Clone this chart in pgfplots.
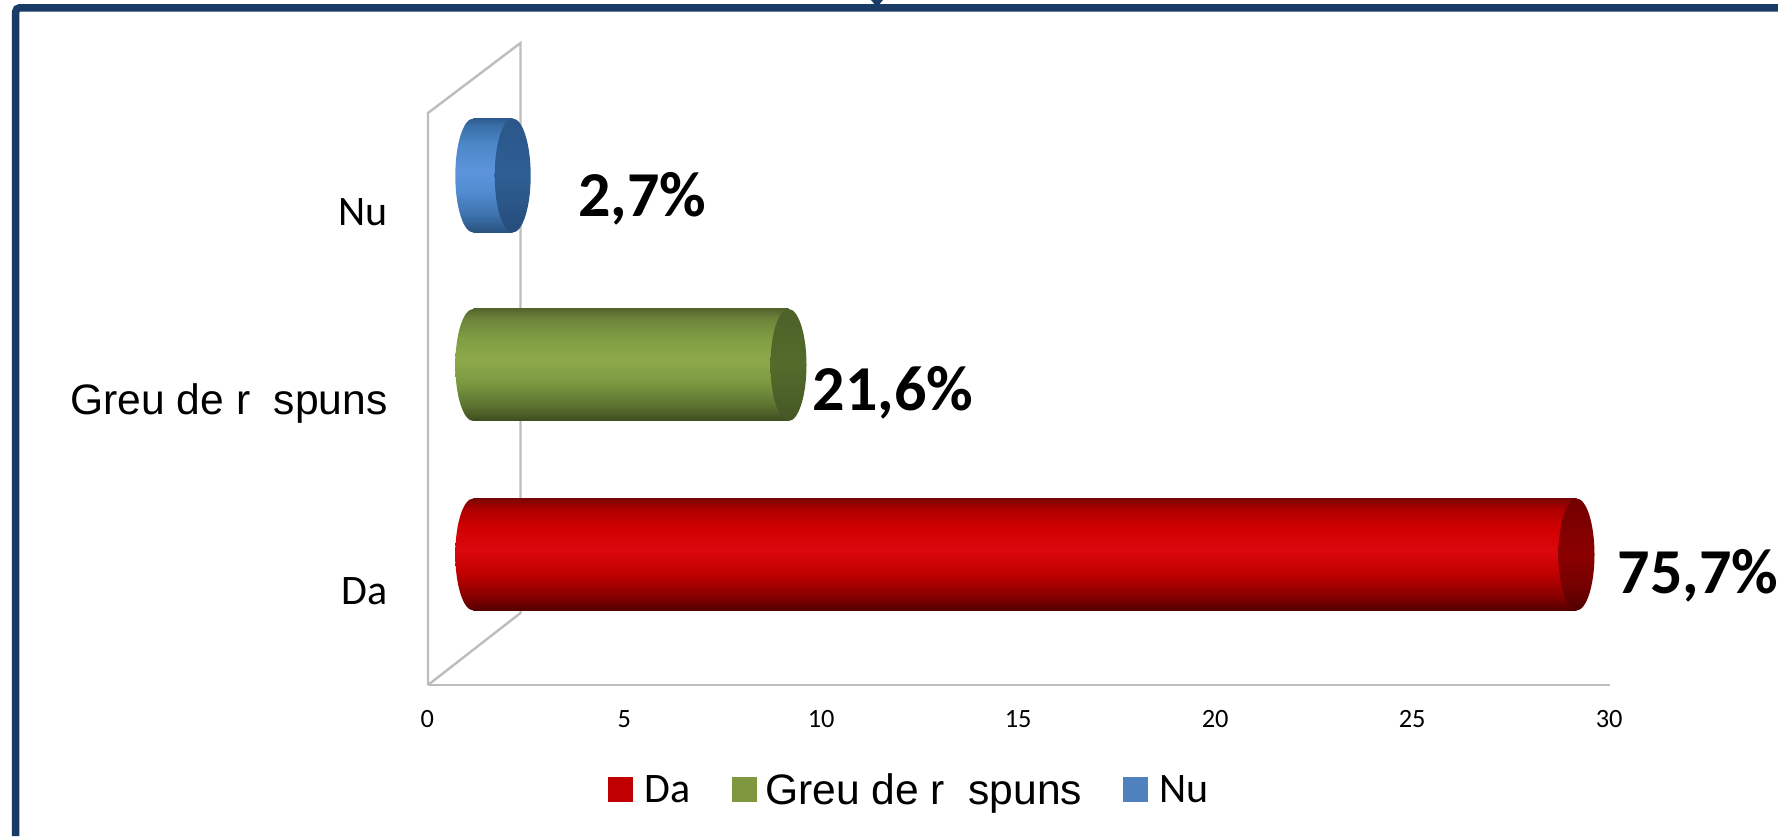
\documentclass[border=0pt]{standalone}
\usepackage{fontspec}
\usepackage{pgfplots}
\pgfplotsset{compat=1.18}
\newfontfamily\carlito{Carlito}
\newfontfamily\arialf{Liberation Sans}
\definecolor{framec}{HTML}{1A3B66}
\definecolor{wallc}{HTML}{BDBDBD}
\definecolor{legred}{HTML}{C00000}
\definecolor{leggreen}{HTML}{7F983F}
\definecolor{legblue}{HTML}{4F81BD}
\pgfdeclareverticalshading{redbody}{100bp}{rgb(0bp)=(0.33,0,0);rgb(25bp)=(0.33,0,0);rgb(32bp)=(0.55,0,0);rgb(42bp)=(0.76,0,0);rgb(52bp)=(0.86,0.03,0.05);rgb(62bp)=(0.82,0,0);rgb(71bp)=(0.66,0,0);rgb(75bp)=(0.48,0.02,0.02);rgb(100bp)=(0.48,0.02,0.02)}
\pgfdeclareverticalshading{redcap}{100bp}{rgb(0bp)=(0.32,0,0);rgb(25bp)=(0.32,0,0);rgb(35bp)=(0.45,0,0);rgb(50bp)=(0.55,0,0);rgb(75bp)=(0.45,0,0);rgb(100bp)=(0.45,0,0)}
\pgfdeclareverticalshading{greenbody}{100bp}{rgb(0bp)=(0.24,0.30,0.12);rgb(25bp)=(0.24,0.30,0.12);rgb(32bp)=(0.36,0.45,0.19);rgb(42bp)=(0.48,0.60,0.25);rgb(52bp)=(0.55,0.66,0.29);rgb(62bp)=(0.50,0.62,0.26);rgb(71bp)=(0.42,0.51,0.22);rgb(75bp)=(0.33,0.40,0.18);rgb(100bp)=(0.33,0.40,0.18)}
\pgfdeclareverticalshading{greencap}{100bp}{rgb(0bp)=(0.27,0.34,0.15);rgb(25bp)=(0.27,0.34,0.15);rgb(50bp)=(0.33,0.42,0.17);rgb(75bp)=(0.30,0.38,0.16);rgb(100bp)=(0.30,0.38,0.16)}
\pgfdeclareverticalshading{bluebody}{100bp}{rgb(0bp)=(0.16,0.32,0.50);rgb(25bp)=(0.16,0.32,0.50);rgb(33bp)=(0.24,0.45,0.68);rgb(43bp)=(0.32,0.55,0.82);rgb(52bp)=(0.36,0.58,0.86);rgb(64bp)=(0.30,0.53,0.78);rgb(72bp)=(0.22,0.43,0.66);rgb(75bp)=(0.18,0.36,0.56);rgb(100bp)=(0.18,0.36,0.56)}
\pgfdeclareverticalshading{bluecap}{100bp}{rgb(0bp)=(0.15,0.30,0.48);rgb(25bp)=(0.15,0.30,0.48);rgb(50bp)=(0.18,0.37,0.58);rgb(75bp)=(0.17,0.34,0.54);rgb(100bp)=(0.17,0.34,0.54)}
\pgfdeclareplotmark{redL}{\pgfpathellipse{\pgfpointorigin}{\pgfqpoint{9pt}{0pt}}{\pgfqpoint{0pt}{28pt}}\pgfshadepath{redbody}{0}\pgfusepath{discard}}
\pgfdeclareplotmark{redR}{\pgfpathellipse{\pgfpointorigin}{\pgfqpoint{9pt}{0pt}}{\pgfqpoint{0pt}{28pt}}\pgfshadepath{redcap}{0}\pgfusepath{discard}}
\pgfdeclareplotmark{greenL}{\pgfpathellipse{\pgfpointorigin}{\pgfqpoint{9pt}{0pt}}{\pgfqpoint{0pt}{28pt}}\pgfshadepath{greenbody}{0}\pgfusepath{discard}}
\pgfdeclareplotmark{greenR}{\pgfpathellipse{\pgfpointorigin}{\pgfqpoint{9pt}{0pt}}{\pgfqpoint{0pt}{28pt}}\pgfshadepath{greencap}{0}\pgfusepath{discard}}
\pgfdeclareplotmark{blueL}{\pgfpathellipse{\pgfpointorigin}{\pgfqpoint{9pt}{0pt}}{\pgfqpoint{0pt}{28.5pt}}\pgfshadepath{bluebody}{0}\pgfusepath{discard}}
\pgfdeclareplotmark{blueR}{\pgfpathellipse{\pgfpointorigin}{\pgfqpoint{9pt}{0pt}}{\pgfqpoint{0pt}{28.5pt}}\pgfshadepath{bluecap}{0}\pgfusepath{discard}}
\newcommand{\catA}{\fontsize{21}{25}\selectfont\carlito}
\newcommand{\catB}{\fontsize{21.3}{25}\selectfont\arialf Greu de r\ \ spuns}
\newcommand{\lab}{\fontsize{32}{36}\selectfont\carlito\bfseries}
\begin{document}
\begin{tikzpicture}
\useasboundingbox (0pt,0pt) rectangle (889pt,418pt);
\begin{scope}[x=0.5pt,y=-0.5pt,yshift=418pt]
% slide frame
\draw[framec,line width=3.75pt,rounded corners=2pt] (15.7,836) -- (15.7,7.8) -- (1778,7.8);
\fill[framec] (871,0) -- (883,0) -- (877,7) -- cycle;
% walls
\draw[wallc,line width=1.2pt] (428,685) -- (428,113) -- (520.5,43) -- (520.5,613) -- (428,685);
\end{scope}
% tick axis
\begin{axis}[
  at={(214pt,75.5pt)},anchor=south west,
  scale only axis,width=591pt,height=286pt,
  xmin=0,xmax=30,ymin=-0.496,ymax=2.522,
  axis x line*=bottom,axis y line=none,
  axis line style={wallc,line width=1.2pt,-},
  xtick={0,5,10,15,20,25,30},
  major tick length=0pt,
  tick label style={/pgf/number format/assume math mode=true},
  xticklabel style={font=\fontsize{13.2}{16}\selectfont\carlito,text=black,inner sep=0pt},
  xtick pos=bottom,
  clip=false,
  x tick label style={yshift=-12.7pt,xshift=-0.4pt},
]
\addplot[draw=none,forget plot,
  nodes near coords,point meta=explicit symbolic,
  every node near coord/.style={anchor=east,inner sep=0pt,text=black,xshift=-20pt}]
  table[meta=label,row sep=\\,col sep=comma] {
  x,y,label\\
  0,0,{\catA Da}\\
  0,0.988,{\catB}\\
  0,2,{\catA Nu}\\
  };
\end{axis}
% bars, in the chart's inner plane
\begin{axis}[
  at={(214pt,75.5pt)},anchor=south west,
  scale only axis,width=591pt,height=286pt,
  xmin=-1.15,xmax=28.85,ymin=-0.689,ymax=2.33,
  hide axis,clip=false,
  xbar,bar width=56pt,bar shift=0pt,
  legend columns=3,
  legend cell align=left,
  legend style={draw=none,fill=none,inner sep=0pt,at={(0.152,-0.154)},anchor=north west,
    /tikz/every even column/.append style={column sep=20.5pt},
    nodes={inner sep=0pt,text depth=0pt}},
]
\addlegendimage{legend image code/.code={\fill[legred] (0pt,-6pt) rectangle (12pt,6pt);}}
\addlegendentry{\hspace{6pt}\fontsize{21}{25}\selectfont\carlito Da}
\addlegendimage{legend image code/.code={\fill[leggreen] (0pt,-6pt) rectangle (12pt,6pt);}}
\addlegendentry{\hspace{4.2pt}\fontsize{21.3}{25}\selectfont\arialf Greu de r\ \ spuns}
\addlegendimage{legend image code/.code={\fill[legblue] (0pt,-6pt) rectangle (12pt,6pt);}}
\addlegendentry{\hspace{5.5pt}\fontsize{21}{25}\selectfont\carlito Nu}
\addplot[sharp plot,only marks,mark=redL,forget plot] coordinates {(0,0)};
\addplot[draw=none,shade,shading=redbody,forget plot,
  nodes near coords={\lab 75,7\%},
  every node near coord/.style={anchor=base west,inner sep=0pt,text=black,xshift=20.5pt,yshift=-19.4pt}]
  coordinates {(28,0)};
\addplot[sharp plot,only marks,mark=redR,forget plot] coordinates {(28,0)};
\addplot[sharp plot,only marks,mark=greenL,forget plot] coordinates {(0,1)};
\addplot[draw=none,shade,shading=greenbody,forget plot,
  nodes near coords={\lab 21,6\%},
  every node near coord/.style={anchor=base west,inner sep=0pt,text=black,xshift=12pt,yshift=-23pt}]
  coordinates {(8,1)};
\addplot[sharp plot,only marks,mark=greenR,forget plot] coordinates {(8,1)};
\addplot[sharp plot,only marks,mark=blueL,forget plot] coordinates {(0,2)};
\addplot[draw=none,shade,shading=bluebody,bar width=57pt,forget plot,
  nodes near coords={\lab 2,7\%},
  every node near coord/.style={anchor=base west,inner sep=0pt,text=black,xshift=32.5pt,yshift=-20.25pt}]
  coordinates {(1,2)};
\addplot[sharp plot,only marks,mark=blueR,forget plot] coordinates {(1,2)};
\end{axis}
\end{tikzpicture}
\end{document}
